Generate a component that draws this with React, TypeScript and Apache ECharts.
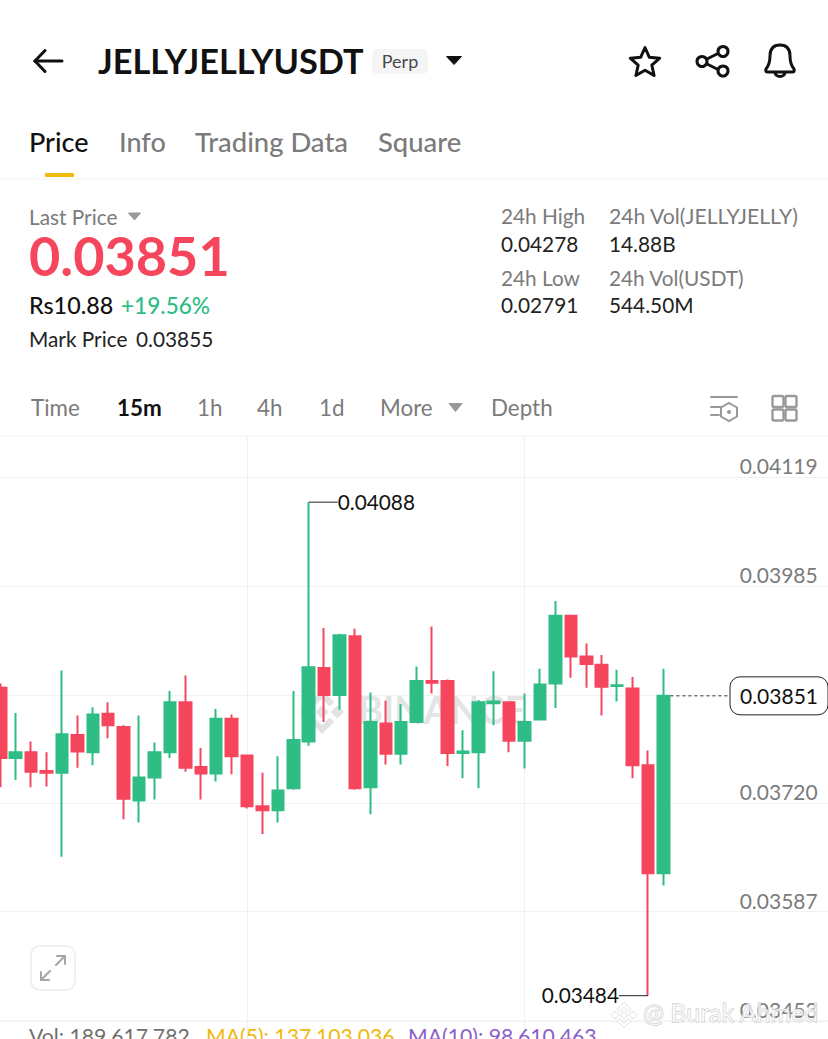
import React, { useEffect, useRef } from "react";
import * as echarts from "echarts";

const FONT = "Lato, 'Open Sans', sans-serif";

const categories = Array.from({ length: 55 }, (_, i) => `#${i + 1}`);
const opens = [0.03861,0.03775,0.03782,0.03759,0.03757,0.03803,0.03782,0.03829,0.03813,0.03723,0.03751,0.03782,0.03843,0.03764,0.03756,0.03823,0.03778,0.03716,0.03711,0.03738,0.03795,0.03885,0.03852,0.03924,0.03739,0.03817,0.03780,0.03819,0.03869,0.03869,0.03781,0.03782,0.03842,0.03843,0.03796,0.03822,0.03866,0.03949,0.03899,0.03889,0.03863,0.03860,0.03766,0.03634];
const closes = [0.03775,0.03782,0.03758,0.03757,0.03804,0.03783,0.03828,0.03815,0.03725,0.03751,0.03782,0.03843,0.03763,0.03756,0.03823,0.03777,0.03716,0.03711,0.03735,0.03797,0.03886,0.03852,0.03925,0.03738,0.03819,0.03780,0.03819,0.03869,0.03867,0.03781,0.03783,0.03843,0.03844,0.03796,0.03819,0.03865,0.03949,0.03899,0.03890,0.03862,0.03864,0.03766,0.03634,0.03851];
const highs = [0.03866,0.03830,0.03795,0.03782,0.03882,0.03827,0.03837,0.03843,0.03815,0.03827,0.03794,0.03857,0.03876,0.03787,0.03835,0.03828,0.03779,0.03757,0.03777,0.03857,0.04088,0.03934,0.03927,0.03933,0.03855,0.03845,0.03841,0.03887,0.03936,0.03871,0.03809,0.03846,0.03881,0.03843,0.03854,0.03884,0.03967,0.03950,0.03915,0.03901,0.03883,0.03874,0.03784,0.03884];
const lows = [0.03739,0.03748,0.03739,0.03740,0.03654,0.03763,0.03766,0.03799,0.03700,0.03696,0.03724,0.03775,0.03758,0.03724,0.03746,0.03755,0.03713,0.03682,0.03696,0.03736,0.03790,0.03819,0.03834,0.03736,0.03706,0.03767,0.03767,0.03819,0.03854,0.03765,0.03750,0.03738,0.03815,0.03782,0.03762,0.03822,0.03836,0.03873,0.03861,0.03827,0.03844,0.03750,0.03484,0.03619];
const priceTicks = [0.03453, 0.03587, 0.0372, 0.03852, 0.03985, 0.04119];
const verticalGridIndices = [16, 34];
const lastPriceRows = [[43, 0.03851]];
const extremeRows = [[20, 0.04088, 1], [42, 0.03484, -1]];

const RED = "#f6465d";
const GREEN = "#2ebd85";
const GREY = "#7b7b7b";
const GRID = "#f1f1f1";

const txt = (text: string, x: number, y: number, size: number, fill: string, weight = 400, align = "left", z = 20) => ({
  type: "text", x, y, z,
  style: { text, fill, align, verticalAlign: "middle", font: `${weight} ${size}px ${FONT}` },
});
const tri = (cx: number, cy: number, w: number, h: number, fill: string) => ({
  type: "polygon", z: 20,
  shape: { points: [[cx - w / 2, cy - h / 2], [cx + w / 2, cy - h / 2], [cx, cy + h / 2]] },
  style: { fill, stroke: fill, lineWidth: 1, lineJoin: "round" },
});
const ln = (x1: number, y1: number, x2: number, y2: number, stroke: string, lineWidth = 1, z = 20) => ({
  type: "line", z, shape: { x1, y1, x2, y2 }, style: { stroke, lineWidth, lineCap: "round" },
});
const starPoints = (cx: number, cy: number, R: number, r: number) =>
  Array.from({ length: 10 }, (_, i) => {
    const a = -Math.PI / 2 + (i * Math.PI) / 5;
    const d = i % 2 ? r : R;
    return [cx + d * Math.cos(a), cy + d * Math.sin(a)];
  });

export default function App() {
  const ref = useRef<HTMLDivElement>(null);
  useEffect(() => {
    document.body.style.margin = "0";
    document.body.style.overflow = "hidden";
    echarts.graphic.registerShape("bell", echarts.graphic.extendPath(
      "M766 69 C770 64 770 60 770 56 C770 48 774 45 780 45 C786 45 790 48 790 56 C790 60 790 64 794 69 C795 71 794 72 792 72 L768 72 C766 72 765 71 766 69 Z M775 72 C775 78 785 78 785 72", {}));
    echarts.graphic.registerShape("bnb", echarts.graphic.extendPath(
      "M50 38 L62 50 L50 62 L38 50Z M50 10 L72 32 L64 40 L50 26 L36 40 L28 32Z M50 90 L28 68 L36 60 L50 74 L64 60 L72 68Z M22 38 L34 50 L22 62 L10 50Z M78 38 L90 50 L78 62 L66 50Z", {}));
    const chart = echarts.init(ref.current!, undefined, { renderer: "svg" });
    const sq = (x: number, y: number, w: number, h: number) => ({
      type: "rect", z: 20, shape: { x, y, width: w, height: h, r: 1.5 }, style: { fill: "none", stroke: "#9a9a9a", lineWidth: 2.4 },
    });
    const elements: any[] = [
      // header
      ln(35, 61, 62, 61, "#111", 3), ln(35, 61, 45, 50.5, "#111", 3), ln(35, 61, 45, 71.5, "#111", 3),
      txt("JELLYJELLYUSDT", 98, 60, 34.3, "#111", 700),
      { type: "rect", z: 19, shape: { x: 372, y: 49, width: 56, height: 25, r: 5 }, style: { fill: "#f5f5f5" } },
      txt("Perp", 400, 61, 18, "#4a4a4a", 400, "center"),
      tri(454, 60.5, 15, 8, "#111"),
      { type: "polygon", z: 20, shape: { points: starPoints(645, 63, 15.5, 7.2) }, style: { fill: "none", stroke: "#111", lineWidth: 3, lineJoin: "round" } },
      ln(707, 59, 717, 54, "#111", 3), ln(707, 64, 717, 69, "#111", 3),
      { type: "circle", z: 20, shape: { cx: 702, cy: 61.5, r: 5 }, style: { fill: "none", stroke: "#111", lineWidth: 3 } },
      { type: "circle", z: 20, shape: { cx: 723, cy: 51.5, r: 5 }, style: { fill: "none", stroke: "#111", lineWidth: 3 } },
      { type: "circle", z: 20, shape: { cx: 723, cy: 71, r: 5 }, style: { fill: "none", stroke: "#111", lineWidth: 3 } },
      { type: "bell", z: 20, x: 0, y: 0, style: { fill: "none", stroke: "#111", lineWidth: 3, lineJoin: "round" } },
      // tabs
      txt("Price", 29, 141, 27, "#111", 500),
      txt("Info", 119, 141, 27, GREY, 500),
      txt("Trading Data", 195, 141, 27.4, GREY, 500),
      txt("Square", 378, 141, 27.4, GREY, 500),
      { type: "rect", z: 20, shape: { x: 45, y: 173, width: 29, height: 4, r: 1 }, style: { fill: "#f0b90b" } },
      ln(0, 179, 828, 179, "#f2f2f2", 1),
      // stats
      txt("Last Price", 29, 216.5, 20.8, GREY),
      tri(134.5, 216.5, 12, 7, "#999"),
      txt("0.03851", 29, 255, 54, RED, 700),
      txt("Rs10.88", 29, 305, 23.3, "#111", 500),
      txt("+19.56%", 121, 305, 22.6, GREEN, 500),
      txt("Mark Price", 29, 338.5, 20.8, "#222"),
      txt("0.03855", 136, 338.5, 20.8, "#222"),
      txt("24h High", 501, 215.5, 20.8, GREY),
      txt("0.04278", 501, 243.5, 20.8, "#222"),
      txt("24h Low", 501, 277.5, 20.8, GREY),
      txt("0.02791", 501, 304.5, 20.8, "#222"),
      txt("24h Vol(JELLYJELLY)", 609, 215.5, 21.2, GREY),
      txt("14.88B", 609, 243.5, 20.8, "#222"),
      txt("24h Vol(USDT)", 609, 277.5, 20.8, GREY),
      txt("544.50M", 609, 304.5, 20.8, "#222"),
      // intervals
      txt("Time", 31, 407.5, 22.4, GREY),
      txt("15m", 117, 407.5, 22.4, "#111", 700),
      txt("1h", 197, 407.5, 22.4, GREY),
      txt("4h", 257, 407.5, 22.4, GREY),
      txt("1d", 319, 407.5, 22.4, GREY),
      txt("More", 380, 407.5, 22.4, GREY),
      tri(455.5, 407.5, 13, 8, "#999"),
      txt("Depth", 491, 407.5, 22.4, GREY),
      ln(711, 397, 737, 397, "#999", 2), ln(711, 407, 722, 407, "#999", 2), ln(711, 415, 719, 415, "#999", 2),
      { type: "polygon", z: 20, shape: { points: [[729, 403], [737, 407.5], [737, 416.5], [729, 421], [721, 416.5], [721, 407.5]] }, style: { fill: "none", stroke: "#999", lineWidth: 2 } },
      { type: "circle", z: 20, shape: { cx: 729, cy: 412, r: 2 }, style: { fill: "#999" } },
      sq(772.5, 396, 11, 11), sq(785.5, 396, 11, 11), sq(772.5, 409.5, 11, 11), sq(785.5, 409.5, 11, 11),
      ln(0, 436, 828, 436, "#f2f2f2", 1),
      // watermark under candles
      { type: "text", z: 0, x: 358, y: 709, style: { text: "BINANCE", fill: "#e4e4e4", font: `700 38px ${FONT}`, verticalAlign: "middle" } },
      { type: "bnb", z: 0, x: 294.5, y: 684.5, scaleX: 0.55, scaleY: 0.55, style: { fill: "#e2e2e2" } },
      // expand button
      { type: "rect", z: 20, shape: { x: 31, y: 946, width: 44, height: 44, r: 9 }, style: { fill: "#fff", stroke: "#ececec", lineWidth: 1.5 } },
      ln(41, 980, 50, 971, "#a6a6a6", 2), ln(41, 980, 41, 972, "#a6a6a6", 2), ln(41, 980, 49, 980, "#a6a6a6", 2),
      ln(56, 965, 65, 956, "#a6a6a6", 2), ln(65, 956, 57, 956, "#a6a6a6", 2), ln(65, 956, 65, 964, "#a6a6a6", 2),
      // footer
      ln(0, 1021, 828, 1021, GRID, 1, 1),
      txt("Vol: 189,617,782", 29, 1036, 21.2, "#6f6f6f"),
      txt("MA(5): 137,103,036", 206, 1036, 21.2, "#f0b90b"),
      txt("MA(10): 98,610,463", 408, 1036, 21.2, "#8a5fc7"),
      // author watermark
      { type: "bnb", z: 30, x: 608, y: 999, scaleX: 0.32, scaleY: 0.32, style: { fill: "rgba(255,255,255,.85)", stroke: "#c9c9c9", lineWidth: 2 } },
      { type: "text", z: 30, x: 643, y: 1012, style: { text: "@ Burak Ahmed", fill: "rgba(255,255,255,.72)", stroke: "#bdbdbd", lineWidth: 0.8, font: `400 25px ${FONT}`, verticalAlign: "middle" } },
    ];
    const option: any = {
      animation: false,
      backgroundColor: "#fff",
      textStyle: { fontFamily: FONT },
      grid: { left: -7.4, width: 848.1, top: 436, height: 603, containLabel: false, outerBoundsMode: "none" },
      graphic: { elements },
      xAxis: {
        type: "category", data: categories, boundaryGap: true,
        axisLine: { show: false }, axisTick: { show: false }, axisLabel: { show: false }, splitLine: { show: false },
      },
      yAxis: {
        type: "value", min: 0.03431, max: 0.04169, position: "right", offset: -13,
        axisLine: { show: false },
        axisTick: { show: false, customValues: priceTicks },
        axisLabel: {
          show: true, inside: true, margin: 10, customValues: priceTicks, color: GREY, fontSize: 21, fontFamily: FONT,
          verticalAlign: "bottom", padding: [0, 0, 1, 0],
          formatter: (v: number) => v.toFixed(5),
        },
        splitLine: { show: true, lineStyle: { color: GRID, width: 1 } },
      },
      series: [
        {
          type: "line", data: [], z: 1, silent: true,
          markLine: {
            z: 1, silent: true, symbol: "none", label: { show: false },
            lineStyle: { color: GRID, width: 1, type: "solid" },
            data: verticalGridIndices.map((i) => ({ xAxis: i })),
          },
        },
        {
          type: "candlestick", z: 3, barWidth: 12,
          data: opens.map((o, i) => [o, closes[i], lows[i], highs[i]]),
          itemStyle: { color: GREEN, color0: RED, borderColor: GREEN, borderColor0: RED, borderWidth: 2 },
        },
        {
          type: "custom", z: 6, data: extremeRows, encode: { x: 0, y: 1 }, silent: true,
          renderItem: (_p: any, api: any) => {
            const [x, y] = api.coord([api.value(0), api.value(1)]);
            const dir = api.value(2);
            return {
              type: "group",
              children: [
                { type: "line", shape: { x1: x, y1: y, x2: x + dir * 29, y2: y }, style: { stroke: "#222", lineWidth: 1 } },
                { type: "text", x: x + dir * 29, y: y - 1, style: { text: api.value(1).toFixed(5), fill: "#111", align: dir > 0 ? "left" : "right", verticalAlign: "middle", font: `400 20.8px ${FONT}` } },
              ],
            };
          },
        },
        {
          type: "custom", z: 7, data: lastPriceRows, encode: { x: 0, y: 1 }, silent: true,
          renderItem: (_p: any, api: any) => {
            const [x, y] = api.coord([api.value(0), api.value(1)]);
            return {
              type: "group",
              children: [
                { type: "line", shape: { x1: x + 7, y1: y, x2: 730, y2: y }, style: { stroke: "#333", lineWidth: 1, lineDash: [3, 3] } },
                { type: "rect", shape: { x: 730, y: y - 19, width: 98, height: 38, r: 10 }, style: { fill: "#fff", stroke: "#222", lineWidth: 1 } },
                { type: "text", x: 779, y, style: { text: api.value(1).toFixed(5), fill: "#111", align: "center", verticalAlign: "middle", font: `400 21px ${FONT}` } },
              ],
            };
          },
        },
      ],
    };
    chart.setOption(option);
    return () => chart.dispose();
  }, []);
  return <div ref={ref} style={{ width: 828, height: 1039, overflow: "hidden" }} />;
}
